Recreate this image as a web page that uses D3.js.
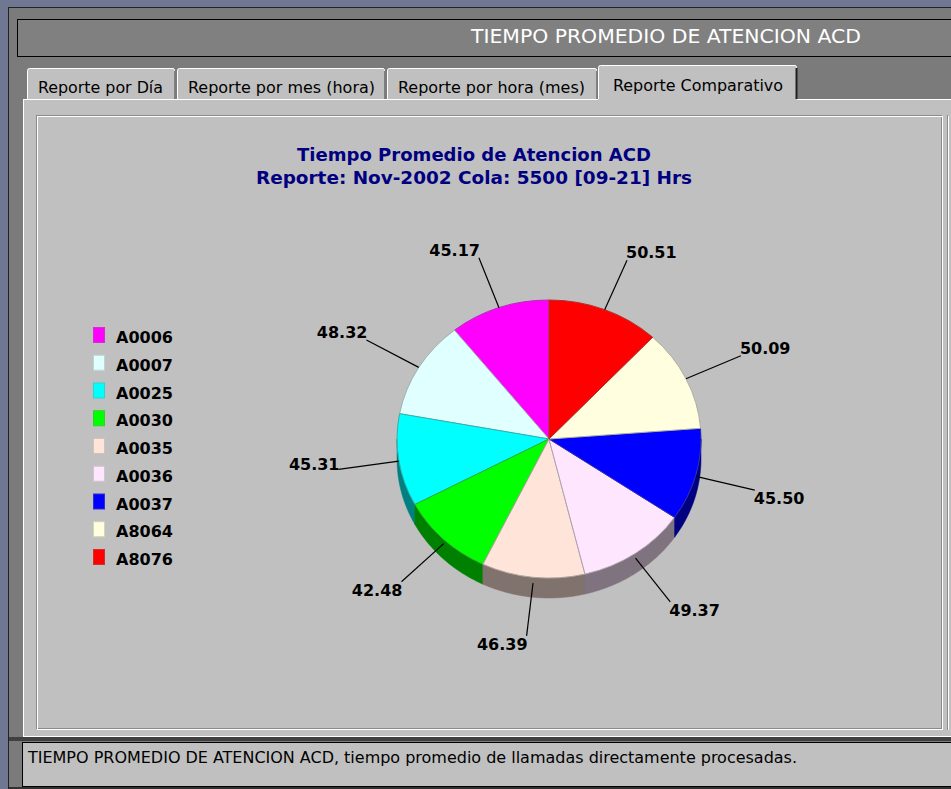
<!DOCTYPE html>
<html>
<head>
<meta charset="utf-8">
<style>
  body { margin: 0; background: #6f7793; }
  svg { display: block; }
  .ui { font-family: "Liberation Sans Narrow", "DejaVu Sans Condensed", "Arial Narrow", sans-serif; }
  .bold { font-family: "DejaVu Sans", Verdana, sans-serif; font-weight: bold; }
</style>
</head>
<body>
<svg width="951" height="789"></svg>
<script src="https://d3js.org/d3.v7.min.js"></script>
<script>
// datos del grafico
const agentes = ["A0006", "A0007", "A0025", "A0030", "A0035", "A0036", "A0037", "A8064", "A8076"];
const tiempos = [45.17, 48.32, 45.31, 42.48, 46.39, 49.37, 45.50, 50.09, 50.51];
const colores = ["#ff00ff", "#e0ffff", "#00ffff", "#00ff00", "#ffe4da", "#ffe6ff", "#0000ff", "#ffffe0", "#ff0000"];
const tabs = ["Reporte por Día", "Reporte por mes (hora)", "Reporte por hora (mes)", "Reporte Comparativo"];
const titulo = ["Tiempo Promedio de Atencion ACD", "Reporte: Nov-2002 Cola: 5500 [09-21] Hrs"];

const svg = d3.select("svg");

// ---- marco de la ventana ----
svg.append("rect").attr("x", 8.5).attr("y", 7.5).attr("width", 960).attr("height", 800)
  .attr("fill", "#7b7b7b").attr("stroke", "#222");

svg.append("rect").attr("x", 17.5).attr("y", 19.5).attr("width", 950).attr("height", 37)
  .attr("fill", "#808080").attr("stroke", "#000");
svg.append("text").attr("class", "ui").attr("x", 471).attr("y", 43)
  .attr("textLength", 390).attr("lengthAdjust", "spacingAndGlyphs")
  .attr("font-size", 20).attr("fill", "#fff").text("TIEMPO PROMEDIO DE ATENCION ACD");

// pestañas
const tabX = [27, 177, 387, 598], tabW = [148, 208, 210, 199];
tabs.forEach((t, i) => {
  const act = i === 3;
  const y0 = act ? 65 : 68, x0 = tabX[i], w = tabW[i];
  const g = svg.append("g");
  g.append("path")
    .attr("d", `M${x0 + 0.5},101 V${y0 + 2.5} Q${x0 + 0.5},${y0 + 0.5} ${x0 + 2.5},${y0 + 0.5} H${x0 + w - 2} Q${x0 + w - 0.5},${y0 + 0.5} ${x0 + w - 0.5},${y0 + 2.5} V101`)
    .attr("fill", "#c0c0c0").attr("stroke", "#fff");
  g.append("line").attr("x1", x0 + w - 0.5).attr("x2", x0 + w - 0.5).attr("y1", y0 + 3).attr("y2", 100)
    .attr("stroke", act ? "#202020" : "#808080").attr("stroke-width", act ? 2 : 1);
  g.append("text").attr("class", "ui").attr("x", x0 + 11 + (act ? 4 : 0)).attr("y", act ? 91 : 93)
    .attr("font-size", 16).attr("fill", "#000")
    .attr("textLength", [125, 187, 187, 170][i]).attr("lengthAdjust", "spacingAndGlyphs")
    .text(t);
});

// panel principal
svg.append("rect").attr("x", 23.5).attr("y", 99.5).attr("width", 940).attr("height", 637)
  .attr("fill", "#c0c0c0").attr("stroke", "#fff");
svg.append("line").attr("x1", 598).attr("x2", 797).attr("y1", 99.5).attr("y2", 99.5).attr("stroke", "#c0c0c0");
svg.append("rect").attr("x", 36.5).attr("y", 115.5).attr("width", 905).attr("height", 613)
  .attr("fill", "none").attr("stroke", "#8a8a8a");
svg.append("rect").attr("x", 37.5).attr("y", 116.5).attr("width", 905).attr("height", 613)
  .attr("fill", "none").attr("stroke", "#fff");
svg.append("line").attr("x1", 947.5).attr("x2", 947.5).attr("y1", 115).attr("y2", 730).attr("stroke", "#8a8a8a");
svg.append("line").attr("x1", 948.5).attr("x2", 948.5).attr("y1", 116).attr("y2", 730).attr("stroke", "#fff");

// barra de estado
svg.append("rect").attr("x", 9).attr("y", 737).attr("width", 950).attr("height", 4).attr("fill", "#404040");
svg.append("rect").attr("x", 22.5).attr("y", 742.5).attr("width", 940).attr("height", 44)
  .attr("fill", "#c0c0c0").attr("stroke", "#000");
svg.append("rect").attr("x", 9).attr("y", 787).attr("width", 950).attr("height", 2).attr("fill", "#303030");
svg.append("text").attr("class", "ui").attr("x", 28).attr("y", 763)
  .attr("font-size", 16).attr("fill", "#000")
  .attr("textLength", 769).attr("lengthAdjust", "spacingAndGlyphs")
  .text("TIEMPO PROMEDIO DE ATENCION ACD, tiempo promedio de llamadas directamente procesadas.");

// ---- titulo del grafico ----
svg.append("g").selectAll("text").data(titulo).join("text")
  .attr("class", "bold").attr("x", 474).attr("y", (d, i) => 161 + i * 23)
  .attr("text-anchor", "middle").attr("font-size", 18).attr("fill", "#000080")
  .attr("textLength", (d, i) => i ? 436 : 354).attr("lengthAdjust", "spacingAndGlyphs")
  .text(d => d);

// ---- leyenda ----
const legY = d3.scalePoint().domain(agentes).range([337, 559]);
const half = c => { const k = d3.rgb(c); return d3.rgb(k.r / 2, k.g / 2, k.b / 2); };
const leg = svg.append("g").selectAll("g").data(agentes).join("g")
  .attr("transform", d => `translate(0,${legY(d)})`);
leg.append("rect").attr("x", 93.5).attr("y", -9.5).attr("width", 11).attr("height", 15)
  .attr("fill", (d, i) => colores[i])
  .attr("stroke", (d, i) => d3.interpolateRgb(colores[i], "#808080")(0.35));
leg.append("text").attr("class", "bold").attr("x", 116).attr("y", 6)
  .attr("font-size", 16).attr("fill", "#000").text(d => d);

// ---- pastel 3D ----
const cx = 549, cy = 439, rx = 152, ry = 139, depth = 20;
const pie = d3.pie().sort(null).startAngle(0).endAngle(-2 * Math.PI);
const arcs = pie(tiempos);
const pt = (a, dy = 0) => [cx + rx * Math.sin(a), cy - ry * Math.cos(a) + dy];

function sidePath(a0, a1) {
  const lo = Math.max(Math.min(a0, a1), -1.5 * Math.PI);
  const hi = Math.min(Math.max(a0, a1), -0.5 * Math.PI);
  if (lo >= hi) return null;
  const ang = d3.range(41).map(i => lo + (hi - lo) * i / 40);
  const top = ang.map(a => pt(a));
  const bot = ang.slice().reverse().map(a => pt(a, depth));
  return d3.line()(top.concat(bot)) + "Z";
}

const pieG = svg.append("g");
pieG.selectAll("path.side").data(arcs.filter(d => sidePath(d.startAngle, d.endAngle)))
  .join("path").attr("class", "side")
  .attr("d", d => sidePath(d.startAngle, d.endAngle))
  .attr("fill", d => half(colores[d.index]))
  .attr("stroke", d => half(colores[d.index])).attr("stroke-width", 0.5);

const arc = d3.arc().innerRadius(0).outerRadius(1);
pieG.selectAll("path.top").data(arcs).join("path").attr("class", "top")
  .attr("transform", `translate(${cx},${cy}) scale(${rx},${ry})`)
  .attr("d", arc)
  .attr("fill", d => colores[d.index])
  .attr("stroke", d => d3.interpolateRgb(colores[d.index], "#606060")(0.5))
  .attr("stroke-width", 1).attr("vector-effect", "non-scaling-stroke");

// etiquetas con lineas guia
const extX = 61, extY = 53;
const lab = svg.append("g").selectAll("g").data(arcs).join("g");
lab.each(function (d) {
  const a = (d.startAngle + d.endAngle) / 2, s = Math.sin(a), c = Math.cos(a);
  const off = c < 0 ? -c * 6 : 0;
  const p0 = [cx + rx * s, cy - ry * c + off];
  const p1 = [cx + (rx + extX) * s, cy - (ry + extY) * c + off];
  const g = d3.select(this);
  g.append("line").attr("x1", p0[0]).attr("y1", p0[1]).attr("x2", p1[0]).attr("y2", p1[1])
    .attr("stroke", "#000").attr("stroke-width", 1.2);
  let dy = c > 0 ? -2 : 14;
  if (c <= 0 && c > -0.3 && s < 0) dy = 1;
  g.append("text").attr("class", "bold")
    .attr("x", p1[0] + (s > 0 ? -1 : 1)).attr("y", p1[1] + dy)
    .attr("text-anchor", s > 0 ? "start" : "end")
    .attr("font-size", 16).attr("fill", "#000")
    .text(d3.format(".2f")(d.data));
});
</script>
</body>
</html>
